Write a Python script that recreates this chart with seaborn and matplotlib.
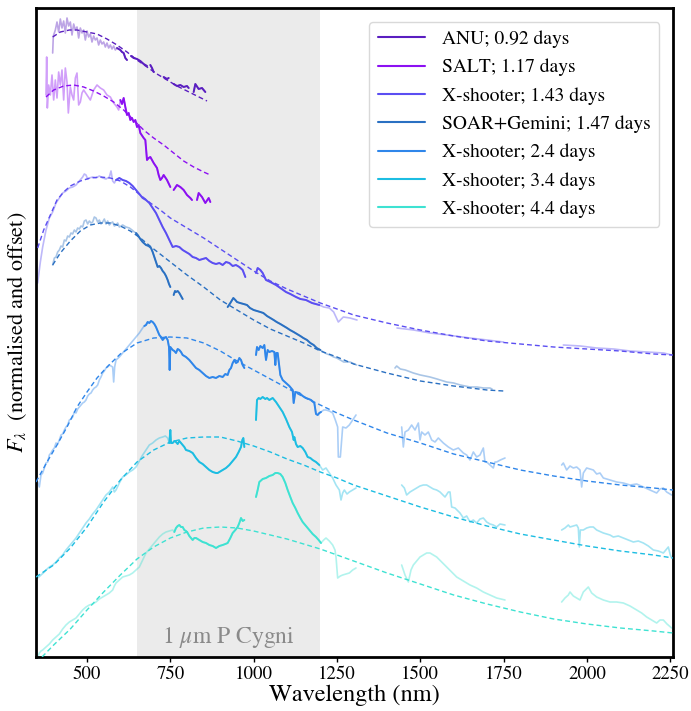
import numpy as np
import pandas as pd
import matplotlib
matplotlib.use("Agg")
import matplotlib.pyplot as plt
import seaborn as sns
from matplotlib.lines import Line2D

nan = np.nan

labels = ["ANU; 0.92 days", "SALT; 1.17 days", "X-shooter; 1.43 days",
          "SOAR+Gemini; 1.47 days", "X-shooter; 2.4 days", "X-shooter; 3.4 days",
          "X-shooter; 4.4 days"]
colors = ["#5a1ec0", "#8c10f2", "#5b4ef2", "#2a70c2", "#2f86ea", "#1cbde2", "#3ee2d2"]

# highlighted (strong colour) wavelength ranges for each spectrum
highlight = [(590, 2300), (597, 2300), (585, 1205), (645, 1205), (670, 1205), (745, 1205), (760, 1205)]

# ---------------- spectra (normalised and offset flux) ----------------
anu_wl = [397, 399, 405, 410, 415, 420, 425, 430, 435, 440, 445, 450, 455, 460, 465, 470, 475, 480, 485, 490,
          495, 500, 505, 510, 515, 520, 525, 530, 535, 540, 545, 550, 555, 560, 565, 570, 575, 580, 585, 590,
          595, 600, 605, 610, 615, 620, nan, 632, 640, 650, 660, 670, 680, nan, 690, 695, 700, nan,
          730, 740, 745, nan, 760, 770, 780, 790, 800, 805, nan, 820, 825, 835, 845, 855]
anu_flux = [60.4, 62.1, 62.7, 63.5, 62.5, 63.8, 62.9, 63.6, 62.4, 63.9, 63.1, 63.5, 62.2, 63.3, 62.7, 63.0, 61.9, 62.9, 62.4, 62.7,
            61.7, 62.6, 62.0, 62.3, 61.5, 62.1, 61.7, 61.9, 61.2, 61.7, 61.3, 61.5, 61.0, 61.4, 60.9, 61.2, 60.8, 61.1, 60.7, 60.9,
            60.8, 60.7, 60.5, 60.4, 59.9, 59.7, nan, 60.1, 59.9, 59.8, 59.6, 59.3, 59.1, nan, 59.2, 58.9, 58.5, nan,
            58.0, 57.8, 57.9, nan, 57.3, 57.1, 57.2, 57.0, 57.1, 56.9, nan, 56.5, 57.3, 56.8, 56.9, 56.5]

salt_wl = [377, 379, 381, 385, 390, 395, 400, 405, 410, 415, 420, 425, 430, 435, 440, 444, 450, 455, 460, 465,
           470, 475, 480, 485, 490, 500, 510, 520, 530, 540, 550, 560, 570, 580, 590, 595,
           600, 605, 610, 615, 620, 625, 630, 635, 640, 645, 650, 655, 660, 670, 675, 680, 685, 690, 700, 710,
           715, 720, 725, 730, 740, 750, nan, 760, 770, 780, 790, 800, 810, 815, nan, 830, 835, 845, 855, 865, 870]
salt_flux = [56.2, 60.0, 54.9, 57.2, 56.2, 58.2, 55.7, 57.7, 55.9, 58.5, 57.2, 58.7, 55.7, 58.9, 57.5, 54.4, 57.0, 56.2, 55.7, 57.9,
             58.4, 55.2, 55.5, 56.4, 56.7, 56.2, 55.7, 56.7, 57.2, 56.9, 56.7, 56.2, 56.0, 55.4, 55.0, 54.7,
             55.7, 55.3, 55.9, 55.0, 54.2, 54.4, 53.7, 53.9, 53.5, 53.7, 53.0, 53.2, 52.4, 51.9, 51.7, 49.7, 49.9, 50.0, 49.4, 48.9,
             48.2, 47.7, 47.9, 48.2, 47.7, 47.0, nan, 46.7, 47.2, 47.0, 46.7, 46.2, 45.9, 45.7, nan, 45.7, 46.4, 46.0, 45.4, 45.9, 45.5]

xs143_wl = [352, 360, 367, 377, 387, 397, 407, 417, 427, 437, 447, 457, 467, 477, 487, 492, 497, 502, 507, 517,
            527, 537, 547, 557, 567, 572, 577, 582,
            587, 597, 607, 617, 627, 637, 647, 657, 667, 677, 687, 697, 707, 717, 727, 737, 747, 757, 767, 777,
            787, 797, 807, 817, 827, 837, 847, 857, 867, 877, 887, 897, 907, 917, 927, 937, 947, 957, 967, 975,
            nan, 1007, 1012, 1020, 1027, 1037, 1050, 1067, 1080, 1097, 1110, 1127, 1140, 1157, 1175, 1197,
            1210, 1227, 1240, 1254, 1260, 1269, 1289, 1310, nan, 1430, 1480, 1529, 1580, 1649, 1700, 1749,
            nan, 1929, 1980, 2029, 2080, 2129, 2180, 2230, 2254]
xs143_flux = [37.4, 39.5, 41.0, 42.7, 43.9, 44.5, 45.4, 45.9, 46.4, 46.6, 46.9, 47.0, 47.2, 47.6, 48.0, 48.3, 48.2, 47.8, 47.9, 48.0,
              47.9, 48.1, 47.9, 47.8, 48.0, 48.6, 47.6, 47.4,
              47.7, 47.9, 47.7, 47.6, 47.4, 47.1, 46.7, 46.3, 45.9, 45.7, 45.4, 44.9, 44.4, 43.7, 43.0, 42.4, 41.7, 41.0, 41.1, 41.0,
              40.7, 40.5, 40.3, 40.0, 39.9, 39.7, 39.8, 39.9, 39.6, 39.4, 39.3, 39.4, 39.2, 39.5, 39.4, 39.1, 39.2, 39.0, 38.7, 38.0,
              nan, 38.4, 38.9, 38.7, 38.4, 37.7, 37.5, 37.2, 36.9, 36.5, 36.3, 36.0, 35.8, 35.7, 35.4, 35.2,
              35.0, 34.9, 34.5, 33.5, 33.7, 34.0, 33.9, 33.7, nan, 32.9, 32.7, 32.4, 32.2, 31.9, 31.7, 31.5,
              nan, 31.2, 31.1, 30.9, 30.8, 30.6, 30.5, 30.4, 30.2]

soar_wl = [397, 402, 407, 412, 417, 422, 427, 432, 437, 442, 447, 452, 457, 462, 467, 472, 477, 482, 487, 492,
           497, 502, 507, 512, 517, 522, 527, 532, 537, 542, 547, 552, 557, 562, 567, 572, 577, 582, 587, 592,
           597, 607, 617, 627, 635, 642,
           647, 652, 660, 667, 677, 685, 692, 697, 702, 707, 712, 717, 722, 727, 732, 737, 742, 746, 750,
           nan, 760, 764, 767, 772, 777, 782, 787,
           nan, 922, 930, 939, 945, 950, 959, 970, 980, 989, 1000, 1010, 1020, 1029, 1040, 1050, 1060, 1069, 1080, 1090, 1100,
           1109, 1120, 1130, 1140, 1149, 1160, 1170, 1180, 1189, 1200,
           1209, 1220, 1229, 1240, 1249, 1260, 1270, 1289, 1309,
           nan, 1424, 1429, 1440, 1455, 1479, 1500, 1529, 1550, 1579, 1600, 1620, 1649, 1670, 1690, 1709, 1715]
soar_flux = [39.2, 39.9, 40.0, 40.5, 40.7, 41.1, 41.0, 41.7, 41.6, 42.1, 42.0, 42.4, 42.3, 42.7, 42.5, 42.9, 42.8, 43.1, 43.0, 43.6,
             43.7, 43.3, 43.6, 43.4, 43.5, 44.0, 43.9, 43.5, 43.7, 43.3, 43.5, 43.8, 43.3, 43.6, 43.2, 43.4, 43.5, 43.1, 43.2, 43.4,
             43.0, 43.2, 43.0, 42.9, 42.7, 42.5,
             42.4, 42.2, 41.8, 41.5, 41.2, 41.1, 40.9, 40.5, 40.0, 39.5, 39.0, 39.1, 38.9, 38.6, 38.4, 38.1, 37.7, 37.3, 37.0,
             nan, 36.2, 36.6, 36.5, 36.6, 36.4, 36.1, 35.8,
             nan, 35.0, 35.4, 35.9, 35.7, 35.5, 35.4, 35.3, 35.2, 34.9, 34.7, 34.6, 34.5, 34.4, 34.1, 33.9, 33.7, 33.5, 33.3, 33.1, 32.9,
             32.7, 32.5, 32.3, 32.1, 31.9, 31.7, 31.4, 31.2, 30.9, 30.7,
             30.5, 30.3, 30.2, 30.0, 29.9, 29.7, 29.5, 29.5, 29.2,
             nan, 28.9, 29.1, 28.8, 28.7, 28.4, 28.2, 28.0, 27.8, 27.5, 27.4, 27.2, 27.0, 27.0, 26.9, 26.9, 26.8]

xs24_wl = [352, 357, 362, 367, 372, 377, 382, 387, 392, 397, 402, 407, 412, 417, 422, 427, 432, 437, 442, 447,
           452, 457, 462, 467, 472, 477, 482, 487, 492, 497, 502, 507, 512, 517, 522, 527, 532, 537, 542, 547,
           552, 557, 562, 567, 572, 577, 580, 583, 587, 597, 607, 617, 627, 637, 647, 657, 667,
           672, 677, 682, 687, 692, 697, 702, 707, 712, 717, 722, 727, 732, 737, 742, 746, 748, 750, 757, 762,
           767, 772, 777, 782, 787, 797, 807, 817, 827, 837, 847, 857, 867, 877, 887, 897, 907, 915, 922, 927,
           932, 937, 942, 947, 952, 957, 962, 967, 972,
           nan, 1007, 1010, 1015, 1020, 1027, 1032, 1037, 1042, 1047, 1055, 1062, 1065, 1068, 1072, 1080, 1087, 1097, 1107, 1117, 1120,
           1125, 1137, 1147, 1157, 1165, 1172, 1182, 1187, 1192, 1197, 1202,
           1210, 1217, 1227, 1237, 1245, 1252, 1254, 1260, 1264, 1267, 1277, 1287, 1297, 1307,
           nan, 1444, 1449, 1454, 1464, 1474, 1484, 1494, 1499, 1504, 1514, 1524, 1534, 1544, 1554, 1569, 1584, 1599, 1614, 1629, 1639,
           1649, 1659, 1669, 1679, 1689, 1694, 1699, 1709, 1719, 1724, 1729, 1740, 1754,
           nan, 1924, 1929, 1939, 1949, 1959, 1969, 1979, 1984, 1989, 1999, 2009, 2019, 2029, 2039, 2049, 2069, 2089, 2109, 2129, 2149,
           2169, 2189, 2209, 2219, 2229, 2239, 2254]
xs24_flux = [17.5, 17.0, 18.2, 18.4, 18.9, 19.4, 19.5, 20.2, 20.4, 20.7, 20.9, 21.4, 21.3, 21.7, 22.2, 22.3, 22.7, 23.0, 23.2, 23.7,
             23.8, 24.0, 24.5, 24.4, 24.8, 25.0, 25.2, 25.4, 25.5, 25.7, 26.1, 26.3, 26.4, 26.7, 26.9, 27.0, 27.2, 27.7, 28.0, 28.4,
             28.6, 28.9, 29.0, 29.2, 29.1, 29.0, 27.5, 29.0, 29.7, 30.0, 30.4, 30.8, 31.2, 31.6, 32.0, 32.4, 32.9,
             33.1, 33.2, 33.5, 33.4, 33.6, 33.5, 33.3, 33.0, 32.6, 32.2, 32.0, 31.7, 31.9, 32.0, 31.7, 31.0, 28.7, 31.0, 30.7, 30.6,
             30.4, 30.8, 30.7, 30.5, 30.2, 30.0, 29.7, 29.3, 28.9, 28.7, 28.4, 28.1, 27.9, 28.0, 27.9, 28.1, 28.0, 28.3, 28.2, 28.7,
             28.9, 29.4, 29.7, 29.4, 29.5, 29.9, 29.7, 29.2, 28.9,
             nan, 30.2, 31.0, 30.7, 31.1, 30.9, 31.2, 29.7, 30.7, 30.5, 30.6, 30.5, 29.2, 30.4, 30.4, 28.2, 27.7, 27.4, 27.1, 26.7, 25.4,
             26.5, 26.4, 26.1, 25.9, 25.8, 25.7, 25.4, 24.3, 24.2, 24.4, 24.5,
             24.7, 24.7, 24.6, 24.4, 23.7, 23.0, 20.0, 20.0, 21.7, 23.0, 22.9, 23.2, 23.7, 24.2,
             nan, 23.0, 21.0, 22.5, 22.7, 23.2, 22.7, 23.4, 21.7, 22.5, 22.2, 22.5, 21.7, 21.5, 21.9, 21.4, 21.0, 20.7, 20.9, 20.4, 20.2,
             19.7, 20.5, 20.0, 20.2, 20.9, 19.5, 19.5, 19.2, 18.9, 19.5, 19.5, 19.7, 19.9,
             nan, 19.2, 19.4, 18.7, 19.1, 18.9, 19.0, 18.7, 17.0, 18.4, 18.9, 18.8, 18.7, 18.3, 18.4, 17.9, 17.7, 17.5, 17.4, 17.2, 17.3,
             17.0, 16.7, 16.4, 16.8, 16.9, 16.5, 16.2]

xs34_wl = [352, 362, 372, 377, 387, 397, 407, 417, 427, 437, 447, 457, 467, 477, 487, 497, 507, 517, 527, 537,
           547, 557, 567, 577, 582, 587, 597, 607, 617, 627, 637, 647, 657, 667, 677, 687, 697, 707, 717, 727, 735, 742,
           747, 750, 752, 757, 762, 767, 772, 777, 782, 787, 792, 797, 807, 817, 827, 837, 847, 857, 867, 877,
           887, 892, 897, 907, 917, 927, 937, 947, 955, 962, 966, 969, 972,
           nan, 1007, 1010, 1015, 1020, 1027, 1035, 1040, 1047, 1057, 1067, 1077, 1087, 1097, 1107, 1115, 1120, 1122, 1127, 1132, 1140,
           1147, 1155, 1162, 1170, 1177, 1187, 1197,
           1207, 1217, 1227, 1237, 1247, 1257, 1262, 1267, 1272, 1280, 1287, 1297, 1307,
           nan, 1444, 1452, 1459, 1469, 1479, 1489, 1499, 1509, 1519, 1529, 1539, 1549, 1559, 1574, 1584, 1589, 1594, 1604, 1619, 1629,
           1639, 1649, 1659, 1669, 1679, 1689, 1699, 1709, 1719, 1729, 1739, 1754,
           nan, 1924, 1934, 1944, 1949, 1959, 1969, 1974, 1977, 1980, 1989, 1999, 2009, 2019, 2029, 2049, 2069, 2079, 2094, 2109, 2124,
           2139, 2154, 2169, 2184, 2199, 2214, 2229, 2244, 2250, 2254]
xs34_flux = [7.9, 8.2, 8.5, 8.7, 9.0, 9.2, 9.5, 9.9, 10.2, 10.7, 11.1, 11.5, 11.9, 12.4, 12.9, 13.4, 13.8, 14.3, 14.7, 15.2,
             15.7, 16.2, 16.5, 17.0, 16.5, 16.7, 17.4, 18.0, 18.2, 18.5, 18.7, 19.0, 19.6, 20.2, 20.7, 21.2, 21.4, 21.7, 21.9, 22.0, 22.1, 21.9,
             21.4, 22.7, 21.4, 21.4, 21.6, 21.5, 21.3, 21.6, 21.4, 21.2, 21.0, 20.7, 20.6, 20.4, 19.9, 19.5, 19.3, 19.0, 18.7, 18.5,
             18.4, 18.4, 18.5, 18.7, 18.9, 19.2, 19.6, 20.0, 20.5, 21.0, 21.7, 21.9, 21.0,
             nan, 23.7, 25.7, 25.9, 25.8, 26.0, 25.8, 25.9, 25.7, 25.9, 25.5, 25.0, 24.5, 23.8, 23.0, 22.5, 21.7, 22.0, 21.3, 21.0, 21.1,
             20.9, 20.5, 20.0, 19.9, 19.7, 19.5, 19.2,
             18.7, 18.9, 18.4, 17.9, 17.2, 16.7, 15.7, 16.4, 16.7, 16.3, 16.5, 16.7, 16.9,
             nan, 17.2, 16.9, 16.2, 16.5, 16.7, 16.9, 17.1, 17.2, 17.2, 17.0, 16.8, 16.7, 16.5, 16.0, 16.5, 16.5, 15.0, 14.9, 14.4, 13.9,
             14.1, 13.5, 13.7, 13.4, 13.8, 13.9, 13.5, 13.3, 13.2, 13.0, 13.3, 13.2,
             nan, 12.7, 12.9, 13.2, 13.0, 13.1, 13.2, 12.9, 11.0, 12.7, 12.7, 12.9, 13.0, 13.0, 12.7, 12.4, 12.2, 12.0, 12.1, 11.9, 11.7,
             11.5, 11.6, 11.4, 11.1, 10.7, 10.6, 10.4, 11.0, 10.2, 9.9]

xs44_wl = [352, 357, 362, 367, 377, 387, 397, 407, 417, 427, 437, 447, 457, 467, 477, 487, 497, 507, 517, 527,
           537, 547, 557, 567, 577, 582, 587, 597, 607, 617, 627, 637, 647, 657, 667, 677, 687, 697, 707, 717,
           727, 737, 747, 757,
           762, 767, 772, 777, 782, 787, 792, 797, 802, 807, 812, 817, 822, 827, 837, 847, 857, 867, 877, 887,
           897, 907, 915, 922, 930, 937, 945, 952, 957, 962, 967, 972,
           nan, 1007, 1012, 1017, 1027, 1037, 1047, 1057, 1065, 1072, 1080, 1087, 1095, 1102, 1110, 1117, 1125, 1132, 1140, 1147, 1157,
           1167, 1177, 1187, 1195, 1202,
           1210, 1217, 1227, 1237, 1244, 1247, 1252, 1260, 1267, 1277, 1287, 1297, 1307,
           nan, 1444, 1454, 1464, 1472, 1479, 1489, 1499, 1509, 1519, 1529, 1539, 1549, 1564, 1579, 1594, 1609, 1629, 1649, 1669, 1689,
           1709, 1729, 1754,
           nan, 1924, 1934, 1944, 1949, 1959, 1969, 1979, 1989, 2004, 2014, 2029, 2049, 2069, 2089, 2109, 2129, 2149, 2164, 2179, 2194,
           2209, 2219, 2229, 2240, 2254]
xs44_flux = [0.0, 0.4, 0.6, 0.7, 1.0, 1.3, 1.7, 2.0, 2.3, 2.8, 3.2, 3.5, 3.7, 3.9, 4.3, 4.7, 5.0, 5.2, 5.3, 5.5,
             5.8, 6.0, 6.2, 6.4, 6.7, 7.1, 7.4, 7.7, 8.0, 8.1, 8.2, 8.4, 8.7, 9.0, 9.7, 10.4, 10.8, 11.2, 11.6, 12.0,
             12.3, 12.5, 12.6, 12.7,
             12.5, 12.9, 13.1, 13.2, 13.0, 13.0, 12.7, 12.6, 12.4, 12.1, 11.9, 11.7, 11.9, 11.9, 11.7, 11.5, 11.4, 11.2, 11.1, 10.9,
             11.1, 11.2, 11.3, 11.4, 11.9, 12.4, 12.7, 13.0, 13.4, 13.9, 13.6, 13.7,
             nan, 16.0, 16.7, 17.5, 17.8, 17.9, 18.1, 18.2, 18.4, 18.4, 18.3, 18.0, 17.4, 16.7, 16.0, 15.4, 14.9, 14.4, 13.9, 13.5, 13.1,
             12.7, 12.3, 12.0, 11.7, 11.4,
             11.7, 11.9, 11.6, 11.2, 10.7, 10.0, 7.9, 8.1, 8.2, 8.3, 8.4, 8.7, 8.9,
             nan, 9.2, 8.2, 7.5, 8.7, 9.2, 9.6, 10.0, 10.2, 10.4, 10.4, 10.2, 10.0, 9.5, 9.0, 8.5, 8.0, 7.6, 7.2, 6.9, 6.5,
             6.2, 5.9, 5.7,
             nan, 5.5, 5.9, 6.2, 6.5, 6.1, 5.9, 5.7, 6.5, 7.0, 6.4, 6.0, 5.7, 5.5, 5.5, 5.4, 5.1, 4.7, 4.4, 4.0, 3.7,
             3.4, 3.7, 3.7, 3.3, 2.9]

# ---------------- fitted continua (dashed) ----------------
anu_fit_wl = [397, 420, 447, 470, 500, 530, 560, 590, 620, 650, 680, 710, 740, 770, 800, 830, 860]
anu_fit = [62.0, 62.5, 62.7, 62.7, 62.5, 62.3, 61.8, 61.2, 60.5, 59.7, 59.0, 58.3, 57.7, 57.1, 56.6, 56.1, 55.6]
salt_fit_wl = [377, 400, 430, 460, 490, 520, 550, 580, 610, 640, 670, 700, 730, 760, 790, 820, 850, 870]
salt_fit = [56.0, 56.7, 57.1, 57.2, 57.0, 56.6, 56.1, 55.5, 54.7, 53.7, 52.7, 51.9, 51.2, 50.4, 49.6, 49.0, 48.5, 48.2]
xs143_fit_wl = [352, 370, 390, 410, 430, 450, 480, 510, 540, 570, 600, 630, 660, 690, 720, 750, 800, 850, 900, 950,
                1000, 1050, 1100, 1150, 1200, 1250, 1300, 1400, 1500, 1600, 1700, 1800, 1900, 2000, 2100, 2200, 2258]
xs143_fit = [40.9, 42.7, 44.2, 45.7, 46.5, 47.1, 47.6, 47.9, 48.0, 47.9, 47.6, 47.0, 46.2, 45.4, 44.7, 43.9, 42.9, 41.9, 40.8, 39.7,
             38.6, 37.6, 36.8, 36.1, 35.4, 34.8, 34.2, 33.4, 32.7, 32.1, 31.6, 31.3, 31.0, 30.8, 30.6, 30.3, 30.2]
soar_fit_wl = [397, 420, 450, 480, 510, 540, 570, 600, 630, 660, 700, 750, 800, 850, 900, 950, 1000, 1050, 1100, 1150,
               1200, 1250, 1300, 1400, 1500, 1600, 1700, 1750]
soar_fit = [39.2, 40.4, 41.6, 42.6, 43.2, 43.4, 43.4, 43.1, 42.6, 41.9, 40.8, 39.5, 38.2, 37.0, 35.7, 34.7, 33.7, 32.8, 32.1, 31.4,
            30.6, 30.0, 29.3, 28.4, 27.6, 27.1, 26.7, 26.6]
xs24_fit_wl = [347, 380, 410, 440, 470, 500, 530, 560, 600, 650, 700, 750, 800, 850, 900, 950, 1000, 1050, 1100, 1150,
               1200, 1250, 1300, 1400, 1500, 1600, 1700, 1800, 1900, 2000, 2100, 2200, 2258]
xs24_fit = [17.5, 19.5, 21.2, 23.0, 25.0, 26.5, 27.9, 29.0, 30.3, 31.4, 31.9, 32.0, 31.9, 31.4, 30.6, 29.6, 28.7, 27.8, 26.9, 26.0,
            25.2, 24.4, 23.7, 22.4, 21.4, 20.3, 19.5, 18.7, 18.1, 17.6, 17.2, 16.9, 16.7]
xs34_fit_wl = [347, 400, 450, 500, 550, 600, 650, 700, 750, 800, 850, 900, 950, 1000, 1050, 1100, 1150, 1200, 1250, 1300,
               1400, 1500, 1600, 1700, 1800, 1900, 2000, 2100, 2200, 2258]
xs34_fit = [8.0, 9.2, 10.9, 13.0, 15.5, 17.7, 19.5, 20.7, 21.5, 21.9, 22.0, 22.0, 21.6, 21.1, 20.5, 19.8, 19.2, 18.5, 17.9, 17.2,
            16.1, 15.0, 14.0, 13.1, 12.3, 11.7, 11.1, 10.6, 10.2, 9.9]
xs44_fit_wl = [365, 400, 450, 500, 550, 600, 650, 700, 750, 800, 850, 900, 950, 1000, 1050, 1100, 1150, 1200, 1250, 1300,
               1400, 1500, 1600, 1700, 1800, 1900, 2000, 2100, 2200, 2258]
xs44_fit = [0.0, 1.2, 2.8, 4.7, 6.5, 8.2, 9.8, 11.0, 11.9, 12.5, 12.9, 13.0, 12.9, 12.6, 12.2, 11.8, 11.3, 10.8, 10.2, 9.6,
            8.4, 7.3, 6.2, 5.3, 4.5, 3.8, 3.3, 2.9, 2.6, 2.4]

xticks = [500, 750, 1000, 1250, 1500, 1750, 2000, 2250]
band = (650, 1200)

spectra = [(anu_wl, anu_flux), (salt_wl, salt_flux), (xs143_wl, xs143_flux), (soar_wl, soar_flux),
           (xs24_wl, xs24_flux), (xs34_wl, xs34_flux), (xs44_wl, xs44_flux)]
fits = [(anu_fit_wl, anu_fit), (salt_fit_wl, salt_fit), (xs143_fit_wl, xs143_fit), (soar_fit_wl, soar_fit),
        (xs24_fit_wl, xs24_fit), (xs34_fit_wl, xs34_fit), (xs44_fit_wl, xs44_fit)]


def to_frame(wl, fl):
    wl = np.asarray(wl, float)
    fl = np.asarray(fl, float)
    seg = np.cumsum(np.isnan(fl))
    return pd.DataFrame({"wl": wl, "flux": fl, "seg": seg}).dropna()


sns.set_style("white")
plt.rcParams["font.family"] = ["STIXGeneral", "DejaVu Serif"]
plt.rcParams["mathtext.fontset"] = "stix"
plt.rcParams["text.color"] = "black"
plt.rcParams["axes.labelcolor"] = "black"
plt.rcParams["xtick.color"] = "black"

fig = plt.figure(figsize=(6.91, 7.11), dpi=100)
ax = fig.add_axes([36 / 691, 1 - 657 / 711, (673 - 36) / 691, (657 - 8) / 711])
ax.axvspan(band[0], band[1], color="#ebebeb", lw=0, zorder=0)

for (wl, fl), (fwl, ffl), col, (lo, hi) in zip(spectra, fits, colors, highlight):
    df = to_frame(wl, fl)
    sns.lineplot(data=df, x="wl", y="flux", units="seg", estimator=None, sort=False,
                 color=col, alpha=0.4, lw=1.2, ax=ax, legend=False, zorder=2)
    dark = df[(df["wl"] >= lo) & (df["wl"] <= hi)]
    sns.lineplot(data=dark, x="wl", y="flux", units="seg", estimator=None, sort=False,
                 color=col, lw=1.4, ax=ax, legend=False, zorder=3)
    dff = pd.DataFrame({"wl": fwl, "flux": ffl})
    sns.lineplot(data=dff, x="wl", y="flux", estimator=None, sort=False, color=col, lw=1.0,
                 linestyle=(0, (3.5, 2.2)), ax=ax, legend=False, zorder=4)

ax.text(sum(band) / 2, 2.0, r"1 $\mu$m P Cygni", ha="center", va="center", color="#8a8a8a", fontsize=17)

ax.set_xlim(347, 2258)
ax.set_ylim(0, 64.9)
ax.set_xticks(xticks)
ax.set_xticklabels([str(t) for t in xticks])
ax.set_yticks([])
ax.tick_params(axis="x", direction="out", length=3.5, width=1, labelsize=13.5, bottom=True, pad=3,
               colors="black")
for s in ax.spines.values():
    s.set_color("black")
    s.set_linewidth(2)
ax.set_xlabel("Wavelength (nm)", fontsize=17.5, labelpad=1, color="black")
ax.set_ylabel(r"$F_\lambda$  (normalised and offset)", fontsize=16, labelpad=5, color="black")

handles = [Line2D([0], [0], color=c, lw=1.5) for c in colors]
leg = ax.legend(handles, labels, loc="upper right", fontsize=14, frameon=True, fancybox=True,
                handlelength=2.4, handletextpad=0.9, labelspacing=0.55, borderaxespad=0.7, borderpad=0.45)
leg.get_frame().set_edgecolor("#d0d0d0")
leg.get_frame().set_linewidth(1.0)
for t in leg.get_texts():
    t.set_color("black")

fig.savefig("out.png", dpi=100)
